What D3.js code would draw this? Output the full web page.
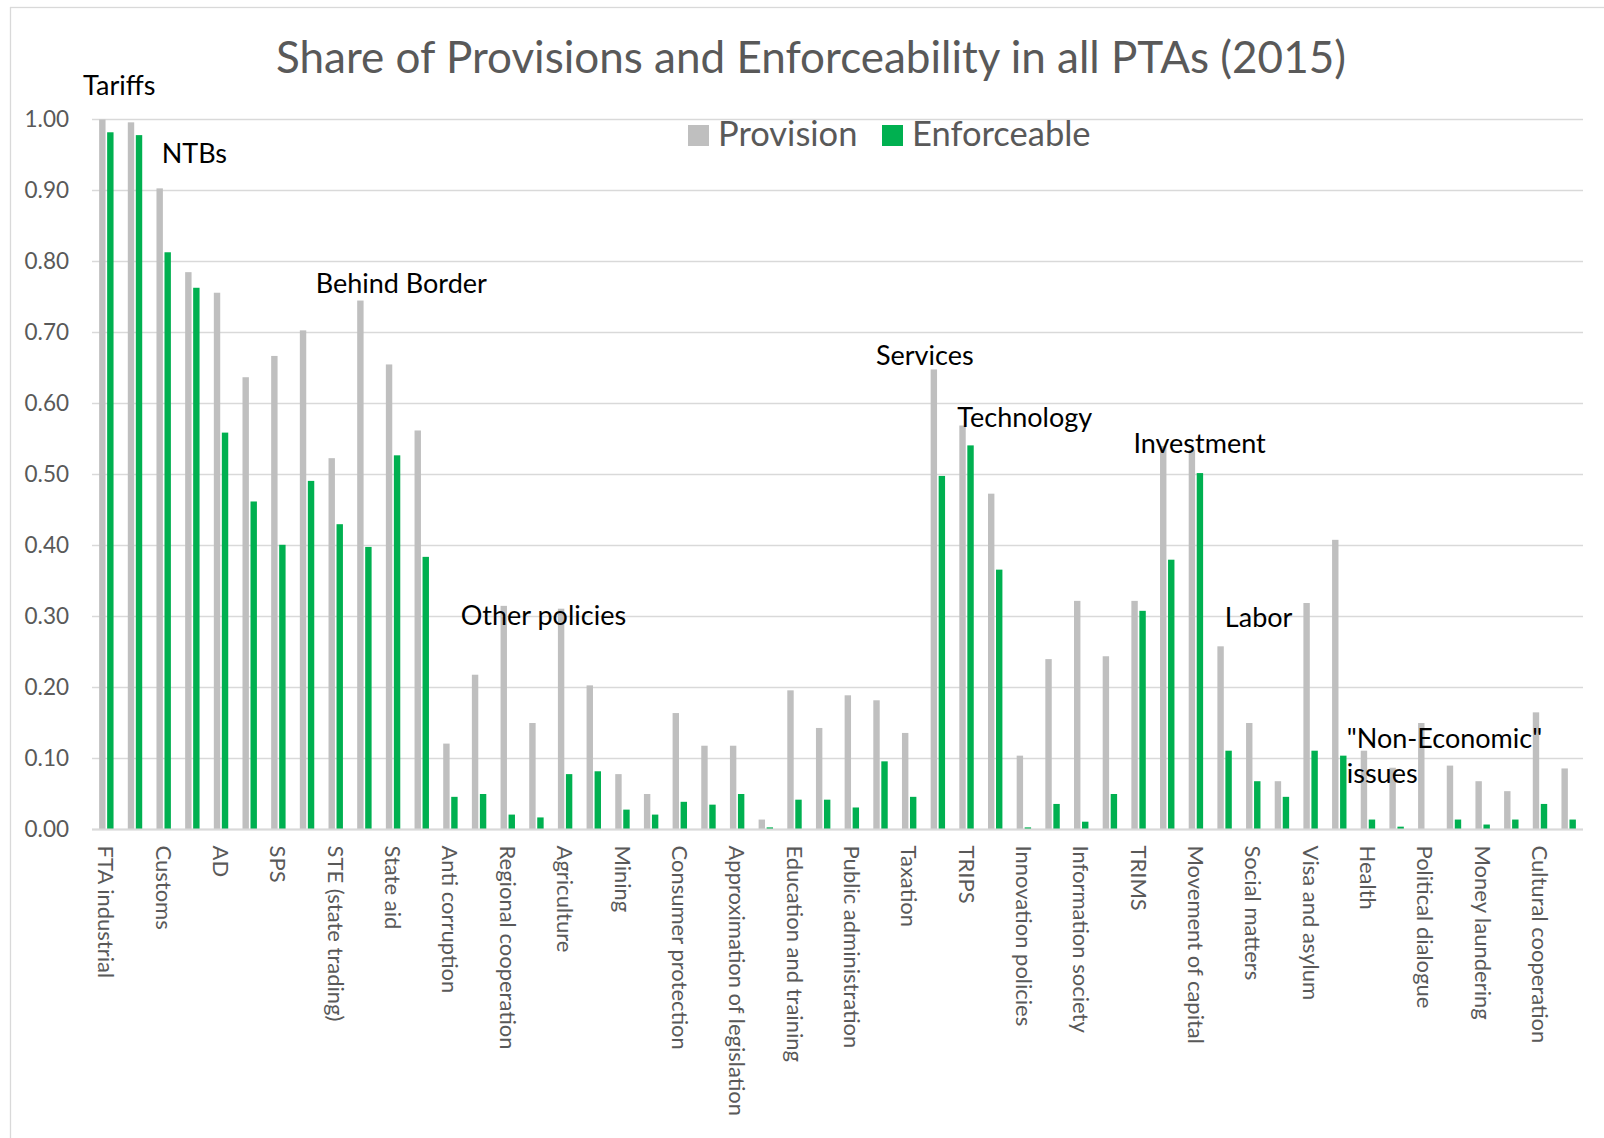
<!DOCTYPE html>
<html>
<head>
<meta charset="utf-8">
<script src="https://cdn.jsdelivr.net/npm/d3@7"></script>
<style>
  html, body { margin: 0; padding: 0; background: #fff; }
  svg { display: block; }
</style>
</head>
<body>
<svg id="chart" width="1604" height="1138"></svg>
<script>
// Policy areas covered by preferential trade agreements
const categories = [
  "FTA industrial", "FTA agriculture", "Customs", "Export taxes", "AD", "CVM",
  "SPS", "TBT", "STE (state trading)", "Public procurement", "State aid",
  "Competition policy", "Anti corruption", "Environmental laws",
  "Regional cooperation", "Energy", "Agriculture", "Industrial cooperation",
  "Mining", "Statistics", "Consumer protection", "Data protection",
  "Approximation of legislation", "Nuclear safety", "Education and training",
  "Economic policy dialogue", "Public administration", "Financial assistance",
  "Taxation", "GATS", "TRIPS", "IPR", "Innovation policies", "Audiovisual",
  "Information society", "Research and technology", "TRIMS", "Investment",
  "Movement of capital", "Labour market regulation", "Social matters",
  "Human rights", "Visa and asylum", "Illegal immigration", "Health",
  "Civil protection", "Political dialogue", "Terrorism", "Money laundering",
  "Illicit drugs", "Cultural cooperation", "SME"
];

// Share of agreements containing the provision
const provision = [
  1.000, 0.996, 0.903, 0.785, 0.756, 0.637, 0.667, 0.703, 0.523, 0.745,
  0.655, 0.562, 0.121, 0.218, 0.315, 0.150, 0.311, 0.203, 0.078, 0.050,
  0.164, 0.118, 0.118, 0.014, 0.196, 0.143, 0.189, 0.182, 0.136, 0.648,
  0.569, 0.473, 0.104, 0.240, 0.322, 0.244, 0.322, 0.540, 0.535, 0.258,
  0.150, 0.068, 0.319, 0.408, 0.111, 0.087, 0.150, 0.090, 0.068, 0.054,
  0.165, 0.086
];

// Share of agreements where the provision is legally enforceable
const enforceable = [
  0.982, 0.978, 0.813, 0.763, 0.559, 0.462, 0.401, 0.491, 0.430, 0.398,
  0.527, 0.384, 0.046, 0.050, 0.021, 0.017, 0.078, 0.082, 0.028, 0.021,
  0.039, 0.035, 0.050, 0.003, 0.042, 0.042, 0.031, 0.096, 0.046, 0.498,
  0.541, 0.366, 0.003, 0.036, 0.011, 0.050, 0.308, 0.380, 0.502, 0.111,
  0.068, 0.046, 0.111, 0.104, 0.014, 0.004, 0.000, 0.014, 0.007, 0.014,
  0.036, 0.014
];

const seriesNames = ["Provision", "Enforceable"];
const seriesColors = ["#BFBFBF", "#00B050"];
const yTicks = [0, 0.1, 0.2, 0.3, 0.4, 0.5, 0.6, 0.7, 0.8, 0.9, 1.0];

const titleText = "Share of Provisions and Enforceability in all PTAs (2015)";

// Group annotations: position given in category steps and value units
const groupLabels = [
  { lines: ["Tariffs"], at: -0.31, v: 1.0345 },
  { lines: ["NTBs"], at: 2.43, v: 0.939 },
  { lines: ["Behind Border"], at: 7.80, v: 0.755 },
  { lines: ["Other policies"], at: 12.86, v: 0.288 },
  { lines: ["Services"], at: 27.34, v: 0.654 },
  { lines: ["Technology"], at: 30.18, v: 0.5665 },
  { lines: ["Investment"], at: 36.32, v: 0.5307 },
  { lines: ["Labor"], at: 39.51, v: 0.2856 },
  { lines: ["\"Non-Economic\"", "issues"], at: 43.76, v: 0.1152 }
];

const FONT = "Lato, 'Open Sans', sans-serif";
const TEXT_GREY = "#595959";
const GRID = "#D9D9D9";

const svg = d3.select("#chart");
const W = 1604, H = 1138;
const plot = { left: 92, right: 1583, top: 119.5, bottom: 829.5 };

// Outer chart frame
svg.append("rect")
  .attr("x", 10.5).attr("y", 7.5)
  .attr("width", W).attr("height", H)
  .attr("fill", "#fff")
  .attr("stroke", GRID).attr("stroke-width", 1.3);

const x0 = d3.scaleBand()
  .domain(categories)
  .range([plot.left, plot.right])
  .paddingInner(0).paddingOuter(0);

const x1 = d3.scaleBand()
  .domain(seriesNames)
  .range([0, x0.bandwidth()])
  .paddingInner(0.2)
  .paddingOuter(0.89);

const y = d3.scaleLinear()
  .domain([0, 1])
  .range([plot.bottom, plot.top]);

// Horizontal gridlines
svg.append("g")
  .selectAll("line")
  .data(yTicks)
  .join("line")
  .attr("x1", plot.left).attr("x2", plot.right)
  .attr("y1", d => y(d)).attr("y2", d => y(d))
  .attr("stroke", GRID)
  .attr("stroke-width", 1.5);

// Y axis labels
const yAxis = svg.append("g")
  .attr("transform", `translate(${plot.left},0)`)
  .call(d3.axisLeft(y).tickValues(yTicks).tickFormat(d3.format(".2f")).tickSize(0).tickPadding(23));
yAxis.select(".domain").remove();
yAxis.selectAll("text")
  .attr("fill", TEXT_GREY)
  .style("font-family", FONT)
  .style("font-size", "22.5px");

// Bars
const rows = categories.map((c, i) => ({ cat: c, vals: [provision[i], enforceable[i]] }));
const groups = svg.append("g")
  .selectAll("g")
  .data(rows)
  .join("g")
  .attr("transform", d => `translate(${x0(d.cat)},0)`);

groups.selectAll("rect")
  .data(d => d.vals.map((v, k) => ({ key: seriesNames[k], v, k })))
  .join("rect")
  .attr("x", d => x1(d.key))
  .attr("width", x1.bandwidth())
  .attr("y", d => y(d.v))
  .attr("height", d => y(0) - y(d.v))
  .attr("fill", d => seriesColors[d.k]);

// Baseline
svg.append("line")
  .attr("x1", plot.left).attr("x2", plot.right)
  .attr("y1", y(0)).attr("y2", y(0))
  .attr("stroke", GRID).attr("stroke-width", 1.8);

// Category labels (every other category, rotated)
svg.append("g")
  .selectAll("text")
  .data(categories.filter((c, i) => i % 2 === 0))
  .join("text")
  .attr("transform", d => `translate(${x0(d) + x0.bandwidth() / 2},${y(0) + 16}) rotate(90)`)
  .attr("dy", "0.36em")
  .attr("text-anchor", "start")
  .attr("fill", TEXT_GREY)
  .style("font-family", FONT)
  .style("font-size", "22px")
  .text(d => d);

// Title
svg.append("text")
  .attr("x", 811)
  .attr("y", 73)
  .attr("text-anchor", "middle")
  .attr("fill", TEXT_GREY)
  .style("font-family", FONT)
  .style("font-size", "44px")
  .text(titleText);

// Legend
const legend = svg.append("g");
const legendItems = [
  { name: seriesNames[0], color: seriesColors[0], x: 688 },
  { name: seriesNames[1], color: seriesColors[1], x: 882 }
];
legendItems.forEach(it => {
  legend.append("rect")
    .attr("x", it.x).attr("y", 125)
    .attr("width", 21).attr("height", 21)
    .attr("fill", it.color);
  legend.append("text")
    .attr("x", it.x + 30).attr("y", 146)
    .attr("fill", TEXT_GREY)
    .style("font-family", FONT)
    .style("font-size", "34.5px")
    .text(it.name);
});

// Group annotations
const stepX = k => plot.left + k * x0.step();
groupLabels.forEach(g => {
  const t = svg.append("text")
    .attr("x", stepX(g.at))
    .attr("y", y(g.v))
    .attr("fill", "#000")
    .style("font-family", FONT)
    .style("font-size", "27px");
  g.lines.forEach((line, i) => {
    t.append("tspan")
      .attr("x", stepX(g.at))
      .attr("dy", i === 0 ? 0 : "1.32em")
      .text(line);
  });
});
</script>
</body>
</html>
